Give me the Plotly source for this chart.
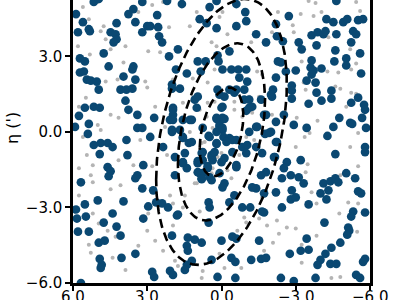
import numpy as np
import plotly.graph_objects as go

# ---- data (xi, eta in arcmin) ----
blue_points = [
(5.88,4.68),(5.6,4.36),(5.36,4.08),(5.32,4.0),(5.8,3.96),(5.16,5.16),(4.96,5.28),(4.24,4.32),(4.48,3.96),(4.28,3.88),(4.24,3.68),(4.36,3.56),(3.76,4.68),(4.76,3.12),(4.56,2.6),(5.72,2.92),(5.52,2.8),(5.72,2.36),(5.56,2.4),(5.44,2.08),(5.28,2.04),(5.04,2.0),(4.96,1.68),(3.96,2.2),(4.08,1.68),(3.84,1.68),(3.88,1.24),(5.52,0.96),(5.16,1.0),(4.92,0.96),(5.76,0.64),(5.36,0.32),(5.4,-0.08),(5.16,-0.52),(4.88,-0.44),(4.6,-0.44),(4.4,-0.6),(3.84,-0.32),(3.76,0.88),(5.92,0.2),
(4.92,-0.88),(4.6,-1.4),(4.48,-1.56),(4.56,-1.76),(5.68,-2.0),(5.0,-2.72),(5.52,-2.88),(5.88,-3.08),(5.84,-3.44),(5.48,-3.36),(4.4,-3.24),(3.96,-2.76),(4.76,-3.6),(4.24,-3.76),(5.8,-3.96),(5.36,-3.96),(4.08,-4.12),(4.96,-4.4),(4.72,-4.32),(4.92,-5.04),(4.84,-5.28),(4.88,-5.4),(4.04,-5.0),(5.68,-6.0),(3.8,-0.92),
(-2.72,4.6),(-2.2,4.28),(-2.48,3.6),(-2.24,3.8),(-2.28,2.8),(-2.4,2.76),(-2.2,2.16),(-2.08,1.68),(-2.04,1.4),(-2.6,2.4),(-3.0,2.44),(-3.12,3.56),(-3.24,3.28),(-3.64,3.84),(-3.88,3.96),(-4.12,3.88),(-4.2,4.0),(-4.24,4.48),(-4.52,4.36),(-4.92,4.36),(-5.08,4.48),(-5.52,4.44),(-5.72,4.48),(-4.64,5.2),(-4.64,3.88),(-5.32,4.0),(-5.44,3.88),(-5.24,3.56),(-3.84,3.44),(-4.6,3.24),(-5.6,3.12),(-3.64,2.84),(-4.56,2.8),(-5.04,2.92),(-5.04,2.64),(-3.6,2.56),(-3.72,2.44),(-4.04,2.52),(-3.64,2.28),(-3.44,2.04),(-3.8,1.96),(-5.64,2.32),(-2.84,1.84),(-2.84,1.64),(-2.84,1.32),(-3.84,1.56),(-4.44,1.64),(-4.44,1.32),(-4.04,1.24),(-3.52,1.12),(-5.52,1.36),(-5.24,1.16),(-5.76,1.08),(-5.8,0.88),(-2.52,0.68),(-2.2,0.4),(-2.0,0.0),(-2.92,0.28),(-3.44,0.16),(-4.76,0.56),(-4.52,0.2),(-5.2,0.36),(-5.28,0.32),(-5.68,0.56),(-5.84,0.16),(-4.28,-0.16),(-2.2,-0.4),(-5.8,-0.6),
(-4.6,-0.88),(-5.8,-0.8),(-2.64,-1.2),(-3.2,-1.12),(-2.52,-1.44),(-2.8,-1.72),(-3.12,-1.8),(-2.44,-1.84),(-3.32,-2.04),(-4.12,-2.04),(-4.4,-1.96),(-4.6,-1.84),(-4.72,-2.0),(-4.32,-2.32),(-4.0,-2.44),(-4.24,-2.68),(-5.04,-1.64),(-5.4,-1.84),(-5.52,-2.36),(-5.64,-2.44),(-2.84,-2.32),(-2.8,-2.68),(-3.0,-2.6),(-2.44,-3.0),(-3.52,-2.88),(-5.8,-3.2),(-5.32,-3.16),(-5.24,-3.36),(-4.16,-3.6),(-5.12,-3.8),(-5.16,-3.92),(-5.08,-4.08),(-3.44,-4.24),(-4.8,-4.4),(-4.44,-4.6),(-4.2,-4.84),(-3.2,-4.72),(-3.52,-4.68),(-2.76,-4.84),(-4.0,-5.08),(-3.88,-5.28),(-4.4,-5.24),(-4.64,-5.24),(-5.8,-5.04),(-5.72,-5.16),(-5.44,-5.68),(-5.6,-5.8),(-2.4,-5.8),(-2.92,-5.92),(-3.8,-5.8),(-2.16,-1.0),
(3.2,5.16),(3.56,4.88),(2.2,5.2),(1.6,5.08),(2.6,4.64),(3.0,4.2),(2.88,4.2),(3.2,3.96),(2.56,4.16),(2.52,3.8),(2.4,3.56),(0.48,4.96),(0.2,5.2),(-0.6,5.08),(-0.96,4.76),(-1.0,4.4),(-0.6,4.2),(-1.4,3.88),(-1.8,3.56),(0.88,4.48),(0.6,4.32),(0.2,4.12),(1.76,3.28),(2.12,3.0),(0.96,2.8),(0.64,2.8),(0.16,3.04),(0.12,2.8),(-0.32,3.2),(-0.04,2.48),(-0.4,2.48),(-0.68,2.48),(-1.0,2.48),(-0.72,2.16),(-1.04,2.0),(1.4,2.32),(0.84,2.4),(3.56,2.6),(3.6,2.48),(3.48,2.08),(3.6,1.72),(2.0,1.72),(1.68,1.72),(1.84,2.48),(0.16,1.68),(-0.12,1.4),(-0.32,1.68),(-0.6,1.68),(-0.92,1.68),(-0.92,1.28),(-1.12,1.28),(-1.24,1.0),(-1.0,0.84),(-1.4,0.2),(-1.8,0.68),(-1.76,-0.08),(1.08,1.28),(0.96,1.4),(1.0,0.96),(0.0,0.96),(1.96,0.96),(1.96,0.68),(2.72,0.56),(2.08,0.48),(1.68,0.08),(1.28,0.48),(1.56,-0.2),(2.0,0.0),(1.32,-0.44),(0.52,-0.16),(0.2,0.52),(-0.12,0.52),(0.08,0.2),(-0.04,0.08),(-0.08,-0.2),(0.2,-0.48),(-0.32,-0.24),(-0.6,-0.32),(-0.84,-0.6),(2.88,-0.2),(3.4,0.68),(3.4,0.16),(3.2,0.16),(2.36,-0.6),(3.48,4.36),
(3.16,-1.32),(3.4,-1.72),(3.48,-1.84),(3.2,-2.24),(2.76,-2.32),(2.64,-2.8),(2.4,-2.84),(2.96,-2.96),(3.16,-3.44),(2.16,-3.0),(1.76,-3.28),(1.88,-1.72),(1.56,-1.24),(1.4,-1.44),(0.96,-1.16),(0.88,-1.64),(0.8,-1.88),(0.48,-1.8),(0.56,-1.36),(0.36,-1.12),(0.4,-0.92),(0.76,-0.8),(1.48,-0.84),(-0.12,-1.04),(-0.12,-2.04),(-0.04,-2.2),(-0.6,-1.32),(-0.52,-2.52),(-0.32,-2.8),(0.52,-2.8),(0.48,-3.0),(0.52,-3.6),(-0.84,-3.0),(-1.16,-3.0),(-1.4,-2.24),(-1.6,-1.72),(-1.72,-3.2),(-1.8,-1.6),(2.0,-4.12),(1.36,-4.2),(1.08,-4.28),(0.8,-4.4),(1.4,-4.52),(1.36,-4.72),(1.2,-5.12),(1.4,-5.28),(1.48,-5.48),(3.48,-4.84),(2.8,-5.56),(2.72,-5.76),(2.08,-5.52),(1.96,-5.68),(0.0,-4.32),(-0.44,-4.16),(-0.6,-4.24),(-0.4,-5.0),(-0.56,-5.16),(0.16,-5.76),(-0.56,-5.8),(0.4,-5.08),(-1.2,-5.08),(-1.52,-4.32),(-1.6,-5.04),(-1.8,-5.0),
(2.0,1.88),(0.08,1.48),(-0.52,1.56),(-1.12,0.96),(-1.6,1.28),(-2.0,1.48),(-1.72,0.68),(-1.92,-0.04),(1.96,0.88),(1.96,0.48),(1.56,0.48),(1.2,0.48),(2.0,0.08),(1.56,-0.24),(1.2,-0.4),(0.76,0.16),(0.48,-0.2),(0.2,0.0),(0.08,0.28),(-0.04,0.16),(-0.04,1.0),(-0.04,0.56),(0.2,0.56),(0.2,-0.44),(-0.2,-0.4),(-0.44,-0.32),(-1.12,0.0),(-1.44,0.2),(-2.24,-0.4),(-1.04,-0.52),(-1.4,-0.6),
(1.88,-1.0),(1.56,-1.2),(0.8,-0.84),(0.4,-1.0),(0.76,-1.12),(0.96,-1.24),(0.56,-1.44),(0.96,-1.6),(0.76,-1.64),(0.8,-1.84),(0.4,-1.92),(0.08,-1.64),(0.0,-1.2),(0.28,-0.8),(-0.6,-1.4),(-0.44,-0.8),(-1.0,-0.84),(-1.64,-0.84),(-2.12,-1.0),(-1.24,-2.2),(-1.72,-2.44),(-2.2,-2.4),(-1.64,-3.16),(1.8,-3.32),
]

gray_points = [
(5.6,4.96),(5.36,4.48),(4.88,4.0),(4.68,3.68),(4.76,4.2),(4.48,3.28),(5.32,3.08),(5.8,3.4),(4.68,2.0),(4.2,2.08),(5.48,1.36),(4.48,0.68),(4.16,0.56),(5.0,0.28),(4.88,0.08),(5.6,-0.2),(5.76,1.0),(3.96,2.76),(5.0,5.16),(3.88,3.4),
(5.44,-0.92),(5.2,-1.32),(5.76,-1.44),(5.28,-1.72),(5.2,-2.0),(4.08,-2.12),(4.48,-2.28),(5.76,-2.52),(5.2,-3.24),(4.6,-3.92),(4.28,-4.16),(5.36,-4.48),(5.28,-4.8),(4.4,-5.0),(3.88,-5.48),(4.96,-3.64),(4.16,-1.12),
(-2.28,4.76),(-3.2,4.68),(-3.72,4.6),(-4.04,4.76),(-3.52,5.2),(-3.8,5.12),(-5.44,5.16),(-2.88,4.24),(-2.92,3.96),(-4.32,3.76),(-3.24,2.8),(-4.28,2.4),(-4.72,2.36),(-5.24,2.48),(-5.44,2.72),(-3.4,1.68),(-4.6,1.8),(-4.8,1.72),(-5.24,1.56),(-5.44,1.52),(-3.32,1.96),(-2.04,0.68),(-3.04,0.56),(-3.88,0.44),(-3.56,-0.04),(-3.36,-0.2),(-3.0,-0.6),(-5.2,-0.6),(-5.52,-0.04),(-5.04,1.0),(-2.04,3.96),(-5.6,4.8),(-5.2,3.28),
(-3.48,-1.28),(-3.4,-1.6),(-5.52,-1.36),(-4.8,-1.72),(-3.64,-2.4),(-3.84,-2.84),(-5.12,-2.8),(-4.76,-3.24),(-2.24,-3.52),(-2.64,-3.8),(-3.0,-3.84),(-2.32,-4.04),(-3.84,-4.12),(-5.48,-3.96),(-3.24,-4.48),(-2.08,-4.4),(-3.24,-5.2),(-4.44,-5.8),(-4.8,-5.76),(-5.52,-2.84),
(2.8,5.04),(2.36,5.16),(3.36,4.76),(2.12,4.16),(1.28,4.2),(1.0,4.76),(-0.04,4.76),(0.08,4.56),(-0.24,3.88),(0.4,3.56),(0.2,3.4),(-1.2,3.56),(2.96,3.2),(2.48,3.16),(0.68,2.68),(0.28,2.48),(-1.64,2.28),(-1.44,2.4),(3.08,2.0),(3.0,1.76),(1.56,1.16),(1.16,2.12),(0.56,1.16),(0.28,1.2),(-1.12,1.4),(-1.52,1.4),(2.68,1.0),(2.28,0.2),(0.6,0.6),(-0.52,0.88),(-0.84,0.6),(0.8,-0.44),(-1.32,-0.32),(3.28,-0.32),
(3.56,-1.32),(2.8,-1.36),(2.2,-0.92),(3.28,-2.24),(2.08,-2.52),(2.96,-3.24),(1.96,-3.72),(3.0,-3.92),(3.36,-4.52),(2.68,-4.32),(2.36,-4.72),(1.88,-5.12),(1.76,-5.32),(0.76,-5.52),(0.8,-5.8),(1.0,-2.04),(0.4,-1.64),(0.16,-1.0),(-0.72,-0.92),(-0.24,-1.52),(-0.92,-3.4),(-0.64,-3.92),(0.08,-4.84),(-1.64,-2.6),(-1.84,-3.72),(-1.72,-4.72),(-0.8,-5.4),(-0.12,-5.4),
(1.96,2.08),(0.56,1.96),(-0.52,1.2),(0.88,0.88),(0.36,0.16),(-1.24,0.76),(0.68,-0.4),(-1.0,-0.2),(-2.2,0.48),(1.28,0.0),
(0.0,-0.84),(1.08,-2.04),(-0.4,-1.84),(0.36,-1.44),(1.48,-2.52),(1.56,-3.0),(0.88,-3.16),(-1.52,-3.44),(-1.24,-2.32),(1.96,-2.84),(-1.0,-3.6),
]

# ellipse parameters (centre, 1-sigma widths, correlation) and contour levels
ell_center = (0.0, 0.0)
ell_sigma_x = 0.88
ell_sigma_y = 1.76
ell_rho = -0.36
ell_levels = [1, 2, 3]

x_ticks = [6, 3, 0, -3, -6]
x_ticklabels = ["6.0", "3.0", "0.0", "\u22123.0", "\u22126.0"]
y_ticks = [-6, -3, 0, 3]
y_ticklabels = ["\u22126.0", "\u22123.0", "0.0", "3.0"]

fig = go.Figure()
fig.add_trace(go.Scatter(
    x=[p[0] for p in gray_points], y=[p[1] for p in gray_points], mode="markers",
    marker=dict(size=4, color="#b4b4b4", line=dict(width=0)), hoverinfo="skip"))
fig.add_trace(go.Scatter(
    x=[p[0] for p in blue_points], y=[p[1] for p in blue_points], mode="markers",
    marker=dict(size=8.7, color="#0a4872", line=dict(width=0)), hoverinfo="skip"))

t = np.linspace(0, 2 * np.pi, 300)
for k in ell_levels:
    ex = ell_center[0] + k * ell_sigma_x * np.cos(t)
    ey = ell_center[1] + k * ell_sigma_y * (ell_rho * np.cos(t) + np.sqrt(1 - ell_rho ** 2) * np.sin(t))
    fig.add_trace(go.Scatter(x=ex, y=ey, mode="lines",
                             line=dict(color="black", width=2.6, dash="9px,5px"),
                             hoverinfo="skip"))

font = dict(family="DejaVu Sans", size=15, color="black")

# x tick labels placed as annotations so they sit just below the tick marks
annos = [dict(text=lab, x=v, xref="x", y=0, yref="paper", yanchor="top", xanchor="center",
              yshift=-4, showarrow=False, font=font, borderpad=0)
         for v, lab in zip(x_ticks, x_ticklabels)]
annos.append(dict(text="\u03b7 (')", xref="paper", yref="paper", x=-0.202, y=0.548,
                  xanchor="center", yanchor="middle", textangle=-90, showarrow=False,
                  font=dict(family="DejaVu Sans", size=16, color="black")))

fig.update_layout(
    width=400, height=300, showlegend=False,
    margin=dict(l=73, r=30, t=0, b=17, pad=0),
    paper_bgcolor="white", plot_bgcolor="white",
    xaxis=dict(range=[6, -6], tickvals=x_ticks, ticktext=x_ticklabels, showticklabels=False,
               ticks="outside", ticklen=5, tickwidth=1.5, tickcolor="black", showline=True,
               linewidth=2.5, linecolor="black", mirror=False, showgrid=False, zeroline=False,
               automargin=False),
    yaxis=dict(range=[-6, 5.24], tickvals=y_ticks, ticktext=y_ticklabels, ticks="outside",
               ticklen=5, tickwidth=1.5, tickcolor="black", showline=True, linewidth=2.5,
               linecolor="black", mirror=True, showgrid=False, zeroline=False, tickfont=font,
               automargin=False),
    annotations=annos,
)
fig.write_html("out.html")
